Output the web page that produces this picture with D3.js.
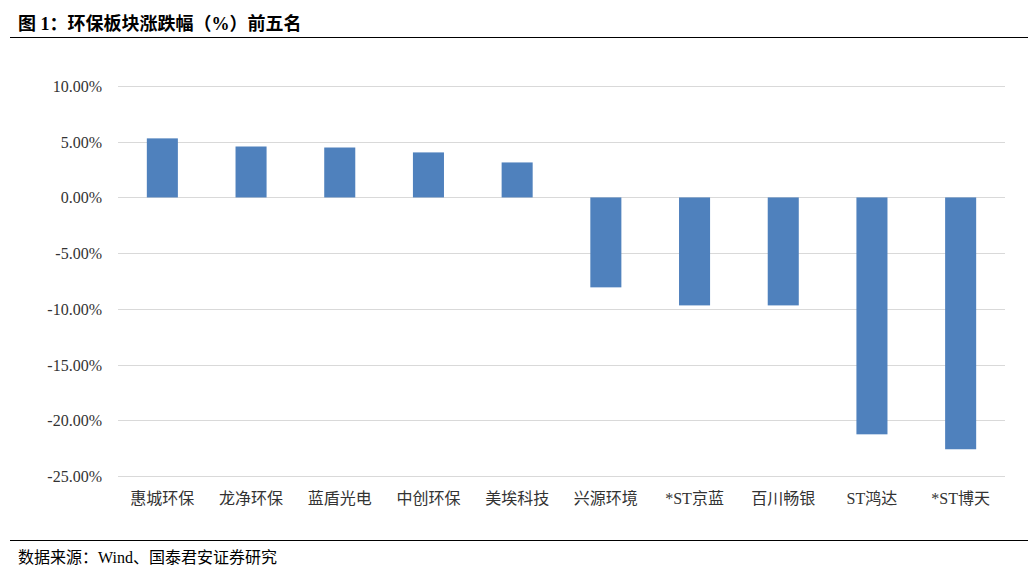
<!DOCTYPE html>
<html><head><meta charset="utf-8">
<script src="https://cdn.jsdelivr.net/npm/d3@7"></script>
<style>body{margin:0;background:#fff}</style></head>
<body><svg id="c" width="1032" height="571"></svg>
<script>
const categories=["惠城环保","龙净环保","蓝盾光电","中创环保","美埃科技","兴源环境","*ST京蓝","百川畅银","ST鸿达","*ST博天"];
const values=[5.3,4.57,4.48,4.04,3.14,-8.07,-9.69,-9.69,-21.26,-22.6];
const yTicks=[10,5,0,-5,-10,-15,-20,-25];
const title="图 1：环保板块涨跌幅（%）前五名";
const source="数据来源：Wind、国泰君安证券研究";
const font="'Liberation Serif','Times New Roman','Noto Sans CJK SC',serif";
const svg=d3.select("#c");
const x=d3.scaleBand().domain(categories).range([118,1005]).paddingInner(0.65).paddingOuter(0.325);
const y=d3.scaleLinear().domain([-25,10]).range([476,86]);
svg.append("text").attr("x",18).attr("y",30).attr("font-family",font).attr("font-weight","bold").attr("font-size",18).attr("fill","#000").text(title);
svg.append("line").attr("x1",10).attr("x2",1028).attr("y1",37.5).attr("y2",37.5).attr("stroke","#000").attr("stroke-width",1.2);
svg.append("line").attr("x1",10).attr("x2",1028).attr("y1",540.5).attr("y2",540.5).attr("stroke","#000").attr("stroke-width",1.2);
svg.append("text").attr("x",18).attr("y",563).attr("font-family",font).attr("font-size",16).attr("fill","#000").text(source);
const g=svg.append("g");
g.selectAll(".grid").data(yTicks).join("line").attr("x1",118).attr("x2",1005)
 .attr("y1",d=>Math.round(y(d))+0.5).attr("y2",d=>Math.round(y(d))+0.5).attr("stroke","#d9d9d9");
g.selectAll(".yl").data(yTicks).join("text").attr("x",102).attr("y",d=>y(d)+6).attr("text-anchor","end")
 .attr("font-family",font).attr("font-size",16).attr("fill","#333").text(d=>d.toFixed(2)+"%");
g.selectAll("rect").data(values).join("rect").attr("x",(d,i)=>x(categories[i])).attr("width",x.bandwidth())
 .attr("y",d=>y(Math.max(0,d))).attr("height",d=>Math.abs(y(d)-y(0))).attr("fill","#4f81bd");
g.selectAll(".xl").data(categories).join("text").attr("x",d=>x(d)+x.bandwidth()/2).attr("y",504).attr("text-anchor","middle")
 .attr("font-family",font).attr("font-size",16).attr("fill","#333").text(d=>d);
</script></body></html>
